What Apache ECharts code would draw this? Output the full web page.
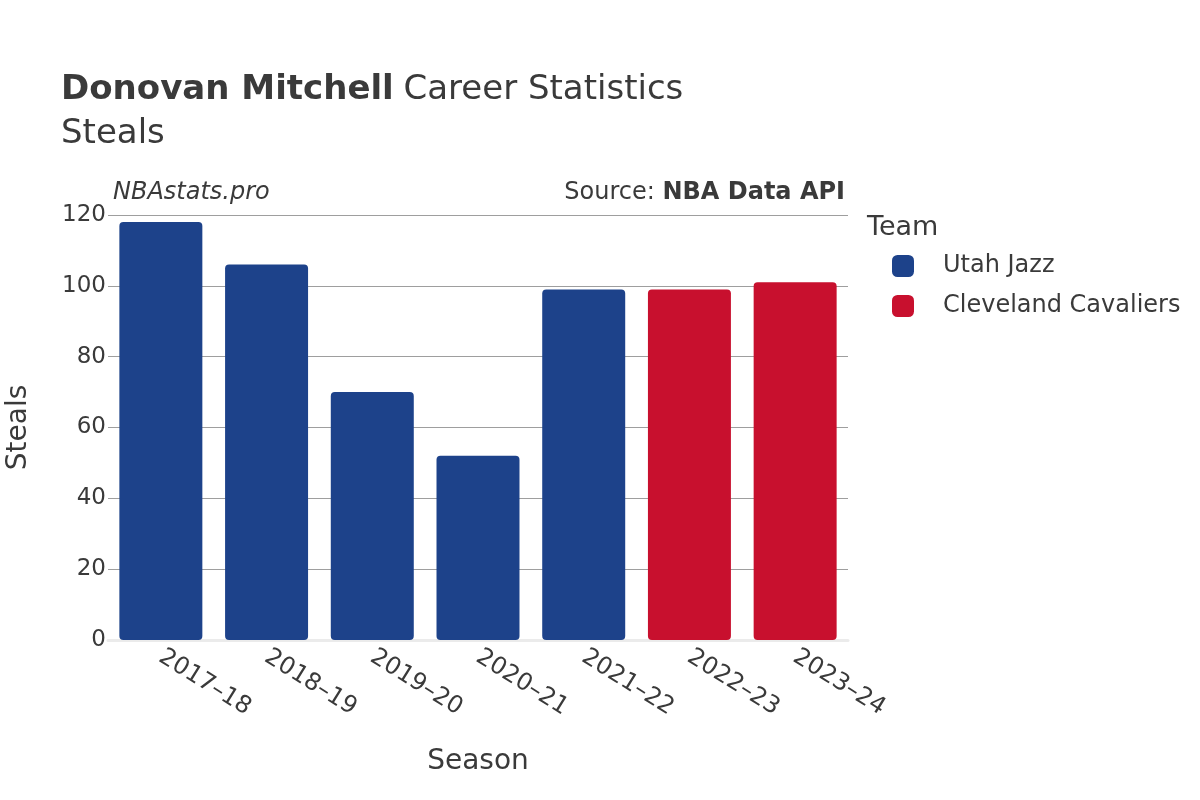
<!DOCTYPE html>
<html>
<head>
<meta charset="utf-8">
<script src="https://cdn.jsdelivr.net/npm/echarts@6/dist/echarts.min.js"></script>
<style>html,body{margin:0;padding:0;background:#fff}#c{width:1200px;height:800px}</style>
</head>
<body>
<div id="c"></div>
<script>
const seasons = ['2017–18','2018–19','2019–20','2020–21','2021–22','2022–23','2023–24'];
const seasonTeams = ['Utah Jazz','Utah Jazz','Utah Jazz','Utah Jazz','Utah Jazz','Cleveland Cavaliers','Cleveland Cavaliers'];
const steals = [118, 106, 70, 52, 99, 99, 101];
const teams = ['Utah Jazz','Cleveland Cavaliers'];
const teamColors = {'Utah Jazz':'#1d428a','Cleveland Cavaliers':'#c8102e'};
const yTicks = [0, 20, 40, 60, 80, 100, 120];

const FONT = 'DejaVu Sans';
const TXT = '#3a3a3a';

const series = teams.map(t => ({
  name: t,
  type: 'bar',
  stack: 'all',
  barCategoryGap: '21.5%',
  itemStyle: {color: teamColors[t], borderRadius: 4},
  data: steals.map((v, i) => seasonTeams[i] === t ? v : null)
}));

const chart = echarts.init(document.getElementById('c'), null, {renderer: 'canvas'});
chart.setOption({
  backgroundColor: '#fff',
  animation: false,
  textStyle: {fontFamily: FONT},
  title: [{
    left: 61, top: 68, padding: 0,
    text: '{b|Donovan Mitchell} {n|Career Statistics}\n{n|Steals}',
    textStyle: {
      fontWeight: 'normal',
      rich: {
        b: {fontFamily: FONT, fontSize: 34, fontWeight: 'bold', color: TXT, lineHeight: 44, padding: [0, 4, 0, 0]},
        n: {fontFamily: FONT, fontSize: 34, fontWeight: 'normal', color: TXT, lineHeight: 44}
      }
    }
  }, {
    left: 867, top: 214, padding: 0,
    text: 'Team',
    textStyle: {fontFamily: FONT, fontSize: 27, fontWeight: 'normal', color: TXT}
  }],
  graphic: [{
    type: 'text', left: 113, top: 181,
    style: {text: 'NBAstats.pro', font: 'italic 24px "DejaVu Sans"', fill: TXT}
  }, {
    type: 'text', right: 355, top: 181,
    style: {
      text: '{n|Source: }{b|NBA Data API}',
      rich: {
        n: {fontFamily: FONT, fontSize: 24, fill: TXT},
        b: {fontFamily: FONT, fontSize: 24, fontWeight: 'bold', fill: TXT}
      }
    }
  }],
  legend: {
    left: 892, top: 254, padding: 0,
    orient: 'vertical',
    data: teams,
    icon: 'roundRect',
    itemWidth: 22, itemHeight: 22,
    itemGap: 16,
    textStyle: {fontFamily: FONT, fontSize: 24, color: TXT, padding: [0, 0, 0, 24]}
  },
  grid: {left: 108, right: 352, top: 215, bottom: 160, containLabel: false, outerBoundsMode: 'none'},
  xAxis: {
    type: 'category',
    data: seasons,
    name: 'Season',
    nameLocation: 'middle',
    nameGap: 108,
    nameTextStyle: {fontFamily: FONT, fontSize: 28, color: TXT},
    axisLine: {show: true, lineStyle: {color: '#ebebeb', width: 3}},
    axisTick: {show: false},
    axisLabel: {rotate: -32, fontFamily: FONT, fontSize: 24, color: TXT, margin: 15}
  },
  yAxis: {
    type: 'value',
    min: 0, max: 120, interval: 20,
    name: 'Steals',
    nameLocation: 'middle',
    nameGap: 75,
    nameRotate: 90,
    nameTextStyle: {fontFamily: FONT, fontSize: 28, color: TXT},
    axisLine: {show: false},
    axisTick: {show: false},
    axisLabel: {fontFamily: FONT, fontSize: 23, color: TXT, margin: 2,
      formatter: v => yTicks.includes(v) ? String(v) : ''},
    splitLine: {show: true, lineStyle: {color: '#9e9e9e', width: 1}}
  },
  series: series
});
</script>
</body>
</html>
